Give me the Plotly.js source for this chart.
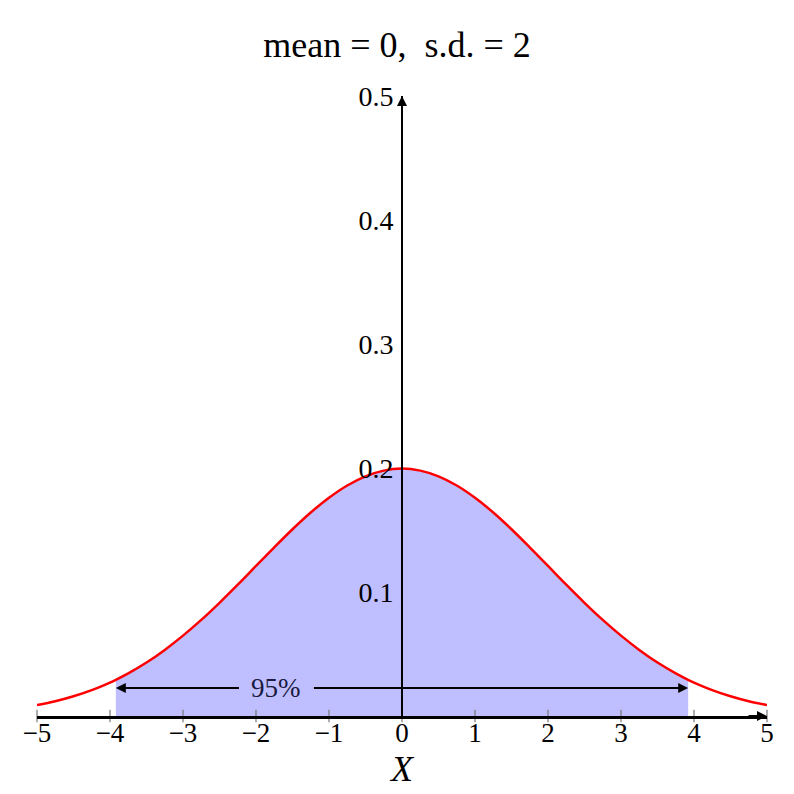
<!DOCTYPE html>
<html>
<head>
<meta charset="utf-8">
<script src="https://cdn.plot.ly/plotly-3.0.1.min.js"></script>
<style>html,body{margin:0;padding:0;background:#fff;}#chart{width:794px;height:794px;}</style>
</head>
<body>
<div id="chart"></div>
<script>
// Density curve (mean 0, s.d. 2)
const xValues = [-5, -4.75, -4.5, -4.25, -4, -3.92, -3.75, -3.5, -3.25, -3, -2.75, -2.5, -2.25, -2, -1.75, -1.5, -1.25, -1, -0.75, -0.5, -0.25, 0,
                 0.25, 0.5, 0.75, 1, 1.25, 1.5, 1.75, 2, 2.25, 2.5, 2.75, 3, 3.25, 3.5, 3.75, 3.92, 4, 4.25, 4.5, 4.75, 5];
const density = [0.0088, 0.0119, 0.0159, 0.0209, 0.0270, 0.0292, 0.0344, 0.0431, 0.0533, 0.0648, 0.0775, 0.0913, 0.1059, 0.1210, 0.1360, 0.1506, 0.1641, 0.1760, 0.1859, 0.1933, 0.1979, 0.1995,
                 0.1979, 0.1933, 0.1859, 0.1760, 0.1641, 0.1506, 0.1360, 0.1210, 0.1059, 0.0913, 0.0775, 0.0648, 0.0533, 0.0431, 0.0344, 0.0292, 0.0270, 0.0209, 0.0159, 0.0119, 0.0088];
const shadeLow = -3.92, shadeHigh = 3.92;
const intervalLabel = '95%';
const intervalLevel = 0.0225;
const intervalLabelX = -1.72;
const xTicks = [-5, -4, -3, -2, -1, 0, 1, 2, 3, 4, 5];
const yTicks = [0.1, 0.2, 0.3, 0.4, 0.5];
const yTickText = ['0.1', '0.2', '0.3', '0.4', '0.5'];
const titleText = 'mean = 0,  s.d. = 2';
const xTitle = 'X';

const shadeX = [], shadeY = [];
xValues.forEach((x, i) => { if (x >= shadeLow && x <= shadeHigh) { shadeX.push(x); shadeY.push(density[i]); } });

const FONT = 'Liberation Serif, Times New Roman, serif';

const traces = [
  {x: shadeX, y: shadeY, type: 'scatter', mode: 'lines', fill: 'tozeroy',
   fillcolor: 'rgb(191,191,255)', line: {width: 0, shape: 'spline'}, hoverinfo: 'skip'},
  {x: xValues, y: density, type: 'scatter', mode: 'lines',
   line: {color: 'rgb(255,0,0)', width: 2.5, shape: 'spline'}},
  // small tick marks crossing the x axis
  {x: xTicks, y: xTicks.map(() => 0), type: 'scatter', mode: 'markers', cliponaxis: false,
   marker: {symbol: 'line-ns-open', size: 9, color: '#777', line: {color: '#777', width: 1.2}}, hoverinfo: 'skip'}
];

const layout = {
  width: 794, height: 794,
  margin: {l: 37, r: 27, t: 96, b: 78},
  paper_bgcolor: '#fff', plot_bgcolor: '#fff',
  showlegend: false,
  font: {family: FONT, color: '#000', size: 24},
  title: {text: titleText, font: {family: FONT, size: 36, color: '#000'},
          x: 0.5, xanchor: 'center', y: 1 - 44/794, yanchor: 'middle', yref: 'container'},
  xaxis: {range: [-5, 5], tickvals: xTicks, showgrid: false, zeroline: false,
          showline: true, linecolor: '#000', linewidth: 3, ticks: '',
          ticklabelstandoff: -9,
          tickfont: {family: FONT, size: 27, color: '#000'}},
  yaxis: {range: [0, 0.5], tickvals: yTicks, ticktext: yTickText, showgrid: false, zeroline: false,
          anchor: 'free', position: 0.5, showline: true, linecolor: '#000', linewidth: 2,
          ticks: '', tickfont: {family: FONT, size: 28, color: '#000'}, ticklabelstandoff: 2},
  annotations: [
    {x: 5, y: 0, xref: 'x', yref: 'y', ax: -20, ay: 0, text: '', showarrow: true,
     arrowhead: 2, arrowsize: 1, arrowwidth: 2, arrowcolor: '#000'},
    {x: 0, y: 0.5, xref: 'x', yref: 'y', ax: 0, ay: 20, text: '', showarrow: true,
     arrowhead: 2, arrowsize: 1, arrowwidth: 2, arrowcolor: '#000'},
    {x: shadeLow, y: intervalLevel, xref: 'x', yref: 'y', ax: intervalLabelX, ay: intervalLevel,
     axref: 'x', ayref: 'y', text: intervalLabel, showarrow: true, arrowhead: 2, arrowsize: 1,
     arrowwidth: 2, arrowcolor: '#000', borderpad: 12, font: {family: FONT, size: 27, color: '#1a1a40'}},
    {x: shadeHigh, y: intervalLevel, xref: 'x', yref: 'y', ax: intervalLabelX, ay: intervalLevel,
     axref: 'x', ayref: 'y', text: intervalLabel, showarrow: true, arrowhead: 2, arrowsize: 1,
     arrowwidth: 2, arrowcolor: '#000', borderpad: 12, font: {family: FONT, size: 27, color: 'rgba(0,0,0,0)'}},
    {x: 0.5, y: -53/620, xref: 'paper', yref: 'paper', xanchor: 'center', yanchor: 'middle',
     text: '<i>' + xTitle + '</i>', showarrow: false, font: {family: FONT, size: 36, color: '#000'}}
  ]
};

Plotly.newPlot('chart', traces, layout, {staticPlot: true, displayModeBar: false});
</script>
</body>
</html>
